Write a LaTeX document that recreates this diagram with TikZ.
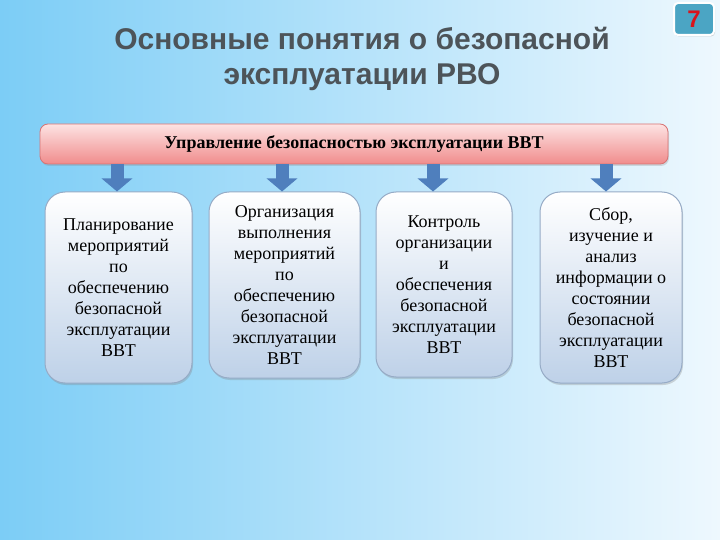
\documentclass[tikz,border=0pt]{standalone}
\usepackage{fontspec}
\setmainfont{Liberation Serif}
\setsansfont{Liberation Sans}
\usepackage{xcolor}
\usepackage{tikz}
\usetikzlibrary{arrows.meta,positioning,calc,shadows}
\definecolor{bgleft}{HTML}{7CCDF6}
\definecolor{bgright}{HTML}{EEF8FE}
\definecolor{titlegray}{HTML}{4D5459}
\definecolor{pinktop}{HTML}{FDE3E3}
\definecolor{pinkbot}{HTML}{F08C8C}
\definecolor{pinkedge}{HTML}{D77474}
\definecolor{boxtop}{HTML}{FFFFFF}
\definecolor{boxbot}{HTML}{BED1E8}
\definecolor{boxedge}{HTML}{96ABC6}
\definecolor{arrblue}{HTML}{4F7FBD}
\definecolor{badge}{HTML}{4BA5C4}
\definecolor{badgered}{HTML}{D8141B}
\tikzset{
  titletext/.style={text=titlegray, font=\sffamily\bfseries\fontsize{30}{35}\selectfont, align=center},
  headbar/.style={draw=pinkedge, line width=0.8pt, rounded corners=8pt, top color=pinktop, bottom color=pinkbot,
    minimum width=628pt, minimum height=40pt, inner sep=0pt, font=\bfseries\fontsize{18}{20}\selectfont,
    drop shadow={opacity=0.25, shadow xshift=1pt, shadow yshift=-2pt}},
  stepcard/.style={draw=boxedge, line width=1pt, rounded corners=20pt, top color=boxtop, bottom color=boxbot,
    inner sep=0pt, align=center, font=\fontsize{18}{21}\selectfont,
    drop shadow={opacity=0.3, shadow xshift=1pt, shadow yshift=-2pt}},
  blockarr/.style={-{Triangle[width=30pt,length=13pt]}, draw=arrblue, fill=arrblue, line width=13pt},
  badgebox/.style={draw=white, line width=2pt, fill=badge, rounded corners=4pt, minimum width=40pt,
    minimum height=32pt, text=badgered, font=\sffamily\bfseries\fontsize{24}{24}\selectfont,
    drop shadow={opacity=0.3, shadow xshift=1pt, shadow yshift=-1.5pt}}
}

\begin{document}
\begin{tikzpicture}[x=1pt, y=-1pt]
  % Background
  \useasboundingbox (0,0) rectangle (720,540);
  \shade[left color=bgleft, right color=bgright] (0,0) rectangle (720,540);

  % Title and slide number
  \node[titletext] (title) at (362,59) {Основные понятия о безопасной\\эксплуатации РВО};
  \node[badgebox] (num) at (694,19) {7};

  % Top bar
  \node[headbar] (bar) at (354,144) {Управление безопасностью эксплуатации ВВТ};

  % Cards
  \node[stepcard, minimum width=147pt, minimum height=191pt] (c1) at (118.5,287.5)
    {Планирование\\мероприятий\\по\\обеспечению\\безопасной\\эксплуатации\\ВВТ};
  \node[stepcard, minimum width=151pt, minimum height=186pt] (c2) at (284.5,285)
    {Организация\\выполнения\\мероприятий\\по\\обеспечению\\безопасной\\эксплуатации\\ВВТ};
  \node[stepcard, minimum width=136pt, minimum height=185pt] (c3) at (444,284.5)
    {Контроль\\организации\\и\\обеспечения\\безопасной\\эксплуатации\\ВВТ};
  \node[stepcard, minimum width=142pt, minimum height=191pt] (c4) at (611,287.5)
    {Сбор,\\изучение и\\анализ\\информации о\\состоянии\\безопасной\\эксплуатации\\ВВТ};

  % Arrows
  \coordinate (t1) at (117,164);
  \coordinate (t2) at (282,164);
  \coordinate (t3) at (433,164);
  \coordinate (t4) at (606,164);
  \draw[blockarr] (t1) -- (t1 |- c1.north);
  \draw[blockarr] (t2) -- (t2 |- c2.north);
  \draw[blockarr] (t3) -- (t3 |- c3.north);
  \draw[blockarr] (t4) -- (t4 |- c4.north);
\end{tikzpicture}
\end{document}
